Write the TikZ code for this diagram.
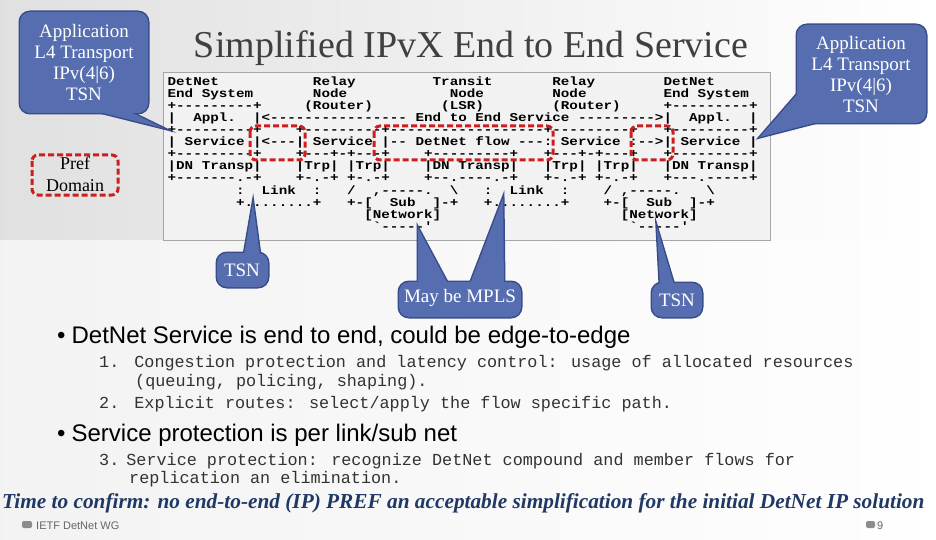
\documentclass[tikz,border=0pt]{standalone}
\usepackage{fontspec}
\setmainfont{Liberation Serif}
\setsansfont{Liberation Sans}
\newfontfamily\asc{Liberation Mono}[FakeStretch=1.1875,Ligatures=ResetAll]
\newfontfamily\lst{Liberation Mono}[Ligatures=ResetAll]
\newlength\cw \setlength\cw{8.55pt}
\newcommand\s[1]{\hskip#1\cw}
\newcommand\bs{\char92}
\definecolor{cofill}{RGB}{86,110,176}
\definecolor{coedge}{RGB}{56,76,138}
\definecolor{pref}{RGB}{204,30,30}
\definecolor{titlec}{RGB}{64,64,64}
\definecolor{bluec}{RGB}{31,56,100}
\begin{document}
\begin{tikzpicture}[x=1pt,y=-1pt,
  al/.style={anchor=base west,inner sep=0pt,font=\asc\bfseries\fontsize{12}{12}\selectfont},
  ctext/.style={text=white,font=\fontsize{19}{21}\selectfont,align=center,inner sep=0pt},
  redbox/.style={draw=pref,line width=3pt,dash pattern=on 6pt off 3pt,rounded corners=6pt},
  lt/.style={anchor=base west,inner sep=0pt,text={rgb,255:red,50;green,50;blue,50},font=\lst\fontsize{16.8}{18}\selectfont},
  bul/.style={anchor=base west,inner sep=0pt,font=\sffamily\fontsize{24}{26}\selectfont},
  coB/.style={draw=coedge,line width=3pt,rounded corners=10pt},
  coF/.style={fill=cofill,rounded corners=10pt}]
\useasboundingbox (0,0) rectangle (936,540);
\shade[left color=black!12,right color=white] (0,0) rectangle (936,540);
\fill[white,opacity=0.6] (0,240) rectangle (936,540);
% ascii box
\draw[fill=black!5,draw=black!35,line width=0.8pt] (163,72) rectangle (770,240);
\node[anchor=base,inner sep=0pt,text=titlec,font=\fontsize{38}{40}\selectfont] (title) at (471,58) {Simplified IPvX End to End Service};
% ascii lines
\node[al] (l1) at (167.4,86) {DetNet\s{11}Relay\s{9}Transit\s{7}Relay\s{8}DetNet};
\node[al] (l2) at (167.4,98) {End\s{1}System\s{7}Node\s{12}Node\s{8}Node\s{9}End\s{1}System};
\node[al] (l3) at (167.4,110) {+---------+\s{5}(Router)\s{8}(LSR)\s{8}(Router)\s{5}+---------+};
\node[al] (l4) at (167.4,122) {|\s{2}Appl.\s{2}|<----------------\s{1}End\s{1}to\s{1}End\s{1}Service\s{1}--------->|\s{2}Appl.\s{2}|};
\node[al] (l5) at (167.4,134) {+---------+\s{4}+---------+------------------+---------+\s{3}+---------+};
\node[al] (l6) at (167.4,146) {|\s{1}Service\s{1}|<---|\s{1}Service\s{1}|--\s{1}DetNet\s{1}flow\s{1}---:\s{1}Service\s{1}:-->|\s{1}Service\s{1}|};
\node[al] (l7) at (167.4,158) {+---------+\s{4}+---+-+---+\s{4}+---------+\s{3}+---+-+---+\s{3}+---------+};
\node[al] (l8) at (167.4,170) {|DN\s{1}Transp|\s{4}|Trp|\s{1}|Trp|\s{4}|DN\s{1}Transp|\s{3}|Trp|\s{1}|Trp|\s{3}|DN\s{1}Transp|};
\node[al] (l9) at (167.4,182) {+-------.-+\s{4}+-.-+\s{1}+-.-+\s{4}+--.----.-+\s{3}+-.-+\s{1}+-.-+\s{3}+---.-----+};
\node[al] (l10) at (167.4,194) {\s{8}:\s{2}Link\s{2}:\s{3}/\s{2},-----.\s{2}\bs\s{3}:\s{2}Link\s{2}:\s{4}/\s{1},-----.\s{3}\bs};
\node[al] (l11) at (167.4,206) {\s{8}+........+\s{3}+-[\s{2}Sub\s{2}]-+\s{3}+........+\s{4}+-[\s{2}Sub\s{2}]-+};
\node[al] (l12) at (167.4,218) {\s{23}[Network]\s{21}[Network]};
\node[al] (l13) at (167.4,230) {\s{24}`-----'\s{23}`-----'};
% red dashed boxes
\draw[redbox] (250,126) rectangle (305,160);
\draw[redbox] (374,126) rectangle (553,160);
\draw[redbox] (631,126) rectangle (673,160);
\draw[redbox] (32,155) rectangle (118,195);
\node[anchor=base,inner sep=0pt,font=\fontsize{18}{20}\selectfont] (pref) at (75,170) {Pref};
\node[anchor=base,inner sep=0pt,font=\fontsize{18}{20}\selectfont] (dom) at (75,192) {Domain};
% callouts: outline pass then fill pass
\foreach \st in {coB,coF}{
  \path[\st] (20,12) rectangle (148,113);
  \path[\st,rounded corners=0pt] (95,111) -- (163,128) -- (128,111) -- cycle;
  \path[\st] (797,25) rectangle (926,123);
  \path[\st,rounded corners=0pt] (799,92) -- (760,137) -- (822,121) -- cycle;
  \path[\st] (217,253) rectangle (268,287);
  \path[\st,rounded corners=0pt] (244,255) -- (253,203) -- (260,255) -- cycle;
  \path[\st] (399,282) rectangle (521,317);
  \path[\st,rounded corners=0pt] (418,284) -- (418,228) -- (448,284) -- cycle;
  \path[\st,rounded corners=0pt] (470,284) -- (503,198) -- (504,284) -- cycle;
  \path[\st] (652,283) rectangle (702,317);
  \path[\st,rounded corners=0pt] (660,285) -- (657,228) -- (674,285) -- cycle;
}
\node[ctext] (c1) at (84,63) {Application\\L4 Transport\\IPv(4|6)\\TSN};
\node[ctext] (c2) at (861,75) {Application\\L4 Transport\\IPv(4|6)\\TSN};
\node[ctext] (t1) at (242,270) {TSN};
\node[ctext] (mp) at (460,298) {May be MPLS};
\node[ctext] (t2) at (677,300) {TSN};
% bullets
\node[bul] (b1) at (57,343) {\textbullet\hskip6pt DetNet Service is end to end, could be edge-to-edge};
\node[lt] (i1) at (99,367) {1.\hskip15pt Congestion protection and latency control: usage of allocated resources};
\node[lt] (i1b) at (135,386) {(queuing, policing, shaping).};
\node[lt] (i2) at (99,408) {2.\hskip15pt Explicit routes: select/apply the flow specific path.};
\node[bul] (b2) at (57,441) {\textbullet\hskip6pt Service protection is per link/sub net};
\node[lt] (i3) at (99,465) {3.\hskip7pt Service protection: recognize DetNet compound and member flows for};
\node[lt] (i3b) at (129,483) {replication an elimination.};
\node[anchor=base west,inner sep=0pt,text=bluec,font=\bfseries\itshape\fontsize{21.3}{22}\selectfont] (conf) at (2,508) {Time to confirm: no end-to-end (IP) PREF an acceptable simplification for the initial DetNet IP solution};
% footer
\fill[black!45,rounded corners=2pt] (22,521) rectangle (32,528) (866,521) rectangle (875,528);
\node[anchor=base west,inner sep=0pt,text=black!60,font=\sffamily\fontsize{11}{12}\selectfont] (ft) at (36,529) {IETF DetNet WG};
\node[anchor=base west,inner sep=0pt,text=black!60,font=\sffamily\fontsize{11}{12}\selectfont] (pg) at (877,529) {9};
\end{tikzpicture}
\end{document}
